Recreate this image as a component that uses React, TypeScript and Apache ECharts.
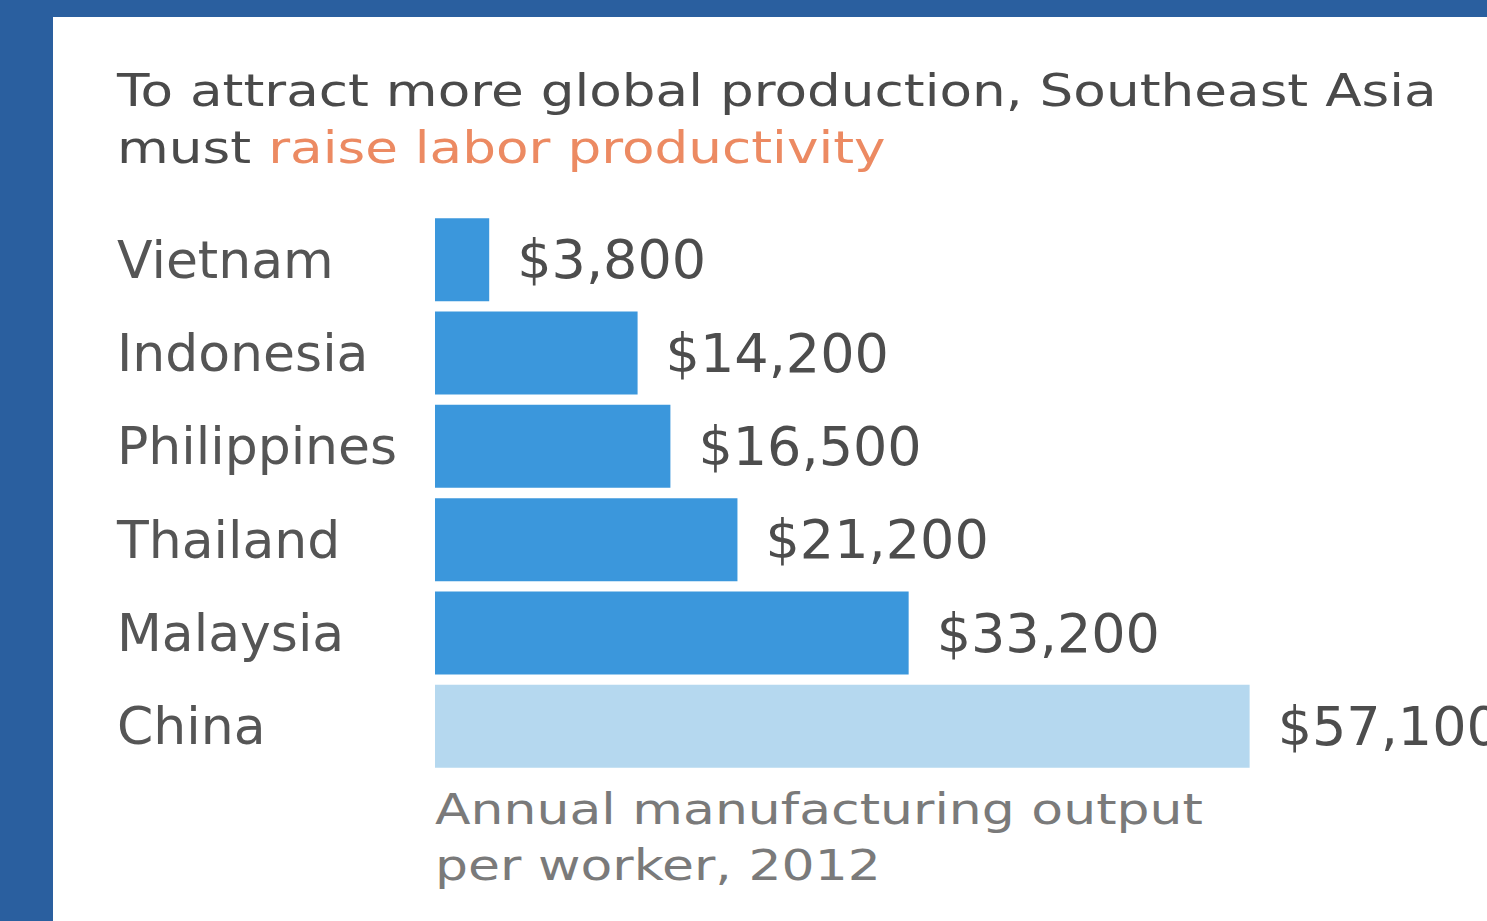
import React, { useEffect, useRef } from "react";
import * as echarts from "echarts";

const countries = ["Vietnam", "Indonesia", "Philippines", "Thailand", "Malaysia", "China"];
const outputPerWorker = [3800, 14200, 16500, 21200, 33200, 57100];
const barColors = ["#3b97dc", "#3b97dc", "#3b97dc", "#3b97dc", "#3b97dc", "#b5d8ef"];
const titleLine1 = "To attract more global production, Southeast Asia";
const titleLine2Start = "must ";
const titleLine2Highlight = "raise labor productivity";
const footnoteLines = ["Annual manufacturing output", "per worker, 2012"];

const FONT = "'DejaVu Sans', 'Liberation Sans', sans-serif";

export default function App() {
  const ref = useRef<HTMLDivElement>(null);
  useEffect(() => {
    if (!ref.current) return;
    const chart = echarts.init(ref.current, undefined, { renderer: "svg" });
    chart.setOption({
      animation: false,
      backgroundColor: "#ffffff",
      graphic: [
        { type: "rect", left: 0, top: 0, shape: { width: 1487, height: 17 }, style: { fill: "#2a5f9f" } },
        { type: "rect", left: 0, top: 0, shape: { width: 53, height: 921 }, style: { fill: "#2a5f9f" } },
        {
          type: "text",
          x: 117,
          y: 63,
          scaleX: 1.21,
          style: {
            text: `{a|${titleLine1}}\n{a|${titleLine2Start}}{b|${titleLine2Highlight}}`,
            rich: {
              a: { fontFamily: FONT, fontSize: 44, fill: "#4a4a4a", lineHeight: 57 },
              b: { fontFamily: FONT, fontSize: 44, fill: "#ec8a62", lineHeight: 57 },
            },
          },
        },
        {
          type: "text",
          x: 435,
          y: 781,
          scaleX: 1.21,
          style: {
            text: footnoteLines.join("\n"),
            fontFamily: FONT,
            fontSize: 43,
            lineHeight: 56,
            fill: "#7a7a7a",
          },
        },
      ],
      grid: { left: 435, right: 196, top: 213, bottom: 148, containLabel: false },
      xAxis: {
        type: "value",
        min: 0,
        max: 60000,
        show: false,
      },
      yAxis: {
        type: "category",
        inverse: true,
        data: countries,
        axisLine: { show: false },
        axisTick: { show: false },
        splitLine: { show: false },
        axisLabel: {
          align: "left",
          margin: 318,
          fontFamily: FONT,
          fontSize: 52,
          color: "#555555",
        },
      },
      series: [
        {
          type: "bar",
          barWidth: 83,
          data: outputPerWorker.map((v, i) => ({ value: v, itemStyle: { color: barColors[i] } })),
          label: {
            show: true,
            position: "right",
            distance: 28,
            fontFamily: FONT,
            fontSize: 54,
            color: "#4d4d4d",
            formatter: (p: any) => "$" + Number(p.value).toLocaleString("en-US"),
          },
        },
      ],
    });
    return () => chart.dispose();
  }, []);
  return (
    <div
      ref={ref}
      style={{ position: "fixed", left: 0, top: 0, width: 1487, height: 921 }}
    />
  );
}
